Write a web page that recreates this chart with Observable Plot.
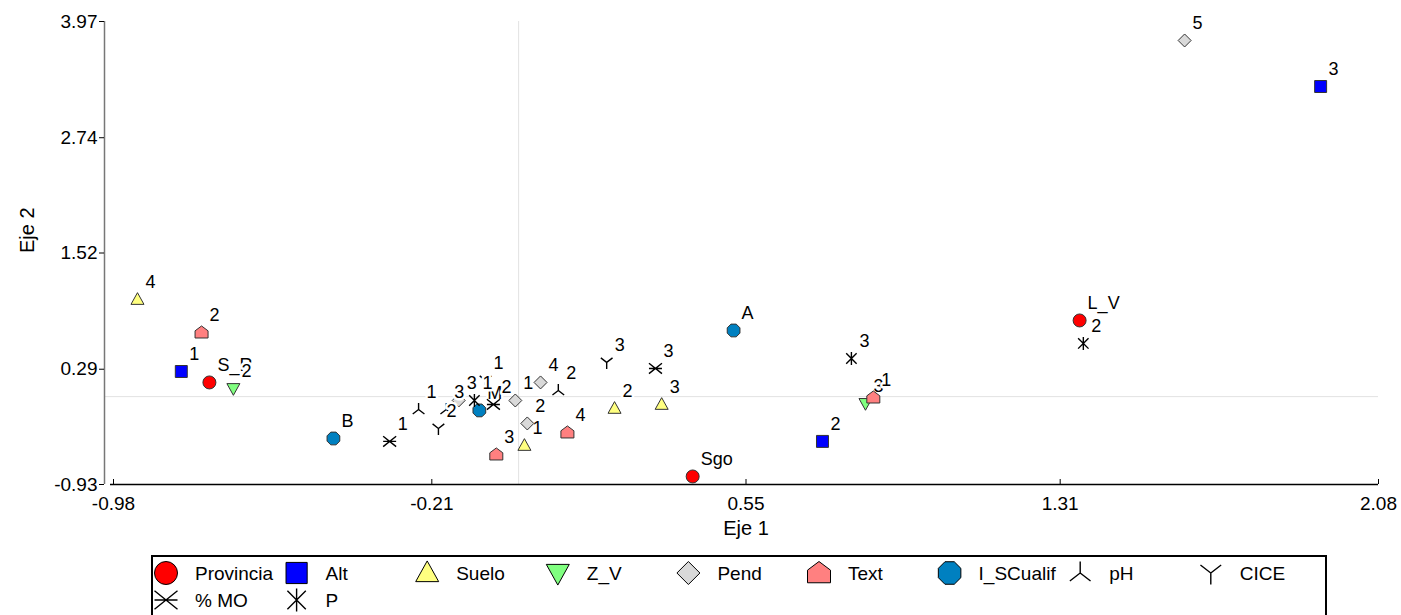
<!DOCTYPE html>
<html><head><meta charset="utf-8">
<script src="https://cdn.jsdelivr.net/npm/d3@7"></script>
<script src="https://cdn.jsdelivr.net/npm/@observablehq/plot@0.6"></script>
<style>
html,body{margin:0;padding:0;background:#fff;font-family:"Liberation Sans",Arial,sans-serif;}
#chart svg,#legend svg{display:block;}
</style></head><body>
<div id="chart"></div><div id="legend"></div>
<script>
// ---- data ----
const seriesNames = ["Provincia","Alt","Suelo","Z_V","Pend","Text","I_SCualif","pH","CICE","% MO","P"];

const provinciaLabels = ["S_R","Sgo","L_V"];
const provinciaX = [-0.748, 0.421, 1.357];
const provinciaY = [0.150, -0.845, 0.806];

const altLabels = ["1","2","3"];
const altX = [-0.816, 0.735, 1.940];
const altY = [0.266, -0.474, 3.282];

const sueloLabels = ["1","2","3","4"];
const sueloX = [0.014, 0.232, 0.346, -0.922];
const sueloY = [-0.517, -0.125, -0.083, 1.028];

const zvLabels = ["2","3"];
const zvX = [-0.690, 0.839];
const zvY = [0.086, -0.072];

const pendLabels = ["1","2","3","4","5"];
const pendX = [-0.008, 0.021, -0.145, 0.053, 1.611];
const pendY = [-0.041, -0.284, -0.041, 0.150, 3.769];

const textLabels = ["1","2","3","4"];
const textX = [0.858, -0.767, -0.054, 0.118];
const textY = [-0.009, 0.679, -0.612, -0.379];

const iscLabels = ["A","B","M"];
const iscX = [0.520, -0.448, -0.095];
const iscY = [0.700, -0.443, -0.146];

const phLabels = ["1","2","3"];
const phX = [-0.242, 0.096, -0.175];
const phY = [-0.136, 0.065, -0.136];

const ciceLabels = ["1","2","3"];
const ciceX = [-0.080, -0.194, 0.213];
const ciceY = [0.171, -0.337, 0.362];

const moLabels = ["1","2","3"];
const moX = [-0.312, -0.061, 0.331];
const moY = [-0.474, -0.083, 0.298];

const pLabels = ["1","2","3"];
const pX = [-0.107, 1.366, 0.805];
const pY = [-0.041, 0.563, 0.404];

const xTicks = [-0.98, -0.21, 0.55, 1.31, 2.08];
const yTicks = [-0.93, 0.29, 1.52, 2.74, 3.97];
const xTitle = "Eje 1";
const yTitle = "Eje 2";

// ---- styles ----
const seriesFill = ["#ff0000","#0000ff","#ffff80","#80ff80","#d9d9d9","#ff8080","#0080c0",null,null,null,null];

const sym = (fn) => ({draw(ctx, size){ const h = Math.sqrt(size/Math.PI); fn(ctx, h); }});
const circle = sym((c,h)=>{c.moveTo(h,0); c.arc(0,0,h,0,2*Math.PI); c.closePath();});
const square = sym((c,h)=>{const s=h*0.92; c.moveTo(-s,-s); c.lineTo(s,-s); c.lineTo(s,s); c.lineTo(-s,s); c.closePath();});
const triUp = sym((c,h)=>{c.moveTo(0,-h*1.05); c.lineTo(h,h*0.75); c.lineTo(-h,h*0.75); c.closePath();});
const triDown = sym((c,h)=>{c.moveTo(0,h*1.05); c.lineTo(h,-h*0.75); c.lineTo(-h,-h*0.75); c.closePath();});
const diamond = sym((c,h)=>{c.moveTo(0,-h); c.lineTo(h,0); c.lineTo(0,h); c.lineTo(-h,0); c.closePath();});
const house = sym((c,h)=>{c.moveTo(0,-h); c.lineTo(h,-h*0.25); c.lineTo(h,h*0.85); c.lineTo(-h,h*0.85); c.lineTo(-h,-h*0.25); c.closePath();});
const octagon = sym((c,h)=>{const R=h*1.06; for(let k=0;k<8;k++){const a=Math.PI/8+k*Math.PI/4; const px=R*Math.cos(a), py=R*Math.sin(a); if(k) c.lineTo(px,py); else c.moveTo(px,py);} c.closePath();});
const lambda = sym((c,h)=>{c.moveTo(0,-h); c.lineTo(0,0); c.lineTo(-h*0.9,h*0.7); c.moveTo(0,0); c.lineTo(h*0.9,h*0.7);});
const yShape = sym((c,h)=>{c.moveTo(0,h); c.lineTo(0,0); c.lineTo(-h*0.9,-h*0.7); c.moveTo(0,0); c.lineTo(h*0.9,-h*0.7);});
const xBar = sym((c,h)=>{c.moveTo(-h,-h*0.8); c.lineTo(h,h*0.8); c.moveTo(-h,h*0.8); c.lineTo(h,-h*0.8); c.moveTo(-h,0); c.lineTo(h,0);});
const star = sym((c,h)=>{c.moveTo(-h*0.8,-h*0.8); c.lineTo(h*0.8,h*0.8); c.moveTo(-h*0.8,h*0.8); c.lineTo(h*0.8,-h*0.8); c.moveTo(0,-h); c.lineTo(0,h);});
const seriesSymbol = [circle,square,triUp,triDown,diamond,house,octagon,lambda,yShape,xBar,star];

const seriesData = [
  [provinciaLabels, provinciaX, provinciaY],
  [altLabels, altX, altY],
  [sueloLabels, sueloX, sueloY],
  [zvLabels, zvX, zvY],
  [pendLabels, pendX, pendY],
  [textLabels, textX, textY],
  [iscLabels, iscX, iscY],
  [phLabels, phX, phY],
  [ciceLabels, ciceX, ciceY],
  [moLabels, moX, moY],
  [pLabels, pX, pY]
];

const FONT = "'Liberation Sans', Arial, sans-serif";
const W = 1401, H = 545;

const marks = [
  Plot.ruleX([0], {y1: yTicks[0], y2: yTicks[yTicks.length-1], stroke: "#e2e2e2", strokeWidth: 1}),
  Plot.ruleY([0], {x1: xTicks[0], x2: xTicks[xTicks.length-1], insetLeft: -9, stroke: "#e2e2e2", strokeWidth: 1}),
  Plot.ruleX([xTicks[0]], {y1: yTicks[0], y2: yTicks[yTicks.length-1], dx: -9, stroke: "#777", strokeWidth: 1.5}),
  Plot.ruleY([yTicks[0]], {x1: xTicks[0], x2: xTicks[xTicks.length-1], insetLeft: -3, stroke: "#000", strokeWidth: 1.5}),
  Plot.axisY({ticks: yTicks, tickFormat: d => d.toFixed(2), dx: -9, tickSize: 5, tickPadding: 2, label: null, fontSize: 19, stroke: "#000"}),
  Plot.axisX({ticks: xTicks, tickFormat: d => d.toFixed(2), tickSize: -5, tickPadding: 17, label: null, fontSize: 19}),
  Plot.text([xTitle], {frameAnchor: "bottom", dy: 44, lineAnchor: "middle", fontSize: 20, fill: "#000"}),
  Plot.text([yTitle], {frameAnchor: "left", dx: -86, rotate: -90, lineAnchor: "middle", fontSize: 20, fill: "#000"})
];

seriesData.forEach(([labs, xs, ys], i) => {
  const rows = labs.map((l, j) => ({label: l, x: xs[j], y: ys[j]}));
  const filled = seriesFill[i] != null;
  marks.push(Plot.dot(rows, {
    x: "x", y: "y", symbol: seriesSymbol[i], r: 6.5,
    fill: filled ? seriesFill[i] : "none",
    stroke: filled ? "#333" : "#000",
    strokeWidth: filled ? 1 : 1.4
  }));
  marks.push(Plot.text(rows, {
    x: "x", y: "y", text: "label", dx: 8, dy: -17, textAnchor: "start",
    fontSize: 18, fill: "#000", stroke: "#fff", strokeWidth: 5, paintOrder: "stroke"
  }));
});

const chart = Plot.plot({
  width: W, height: H,
  marginLeft: 113, marginRight: 23, marginTop: 21, marginBottom: 61,
  x: {domain: [xTicks[0], xTicks[xTicks.length-1]], axis: null},
  y: {domain: [yTicks[0], yTicks[yTicks.length-1]], axis: null},
  style: {fontFamily: FONT, color: "#000", background: "#fff", overflow: "visible"},
  marks
});
document.getElementById("chart").appendChild(chart);

// ---- legend ----
const LH = 70;
const lsvg = d3.select("#legend").append("svg").attr("width", W).attr("height", LH)
  .style("font-family", FONT);
lsvg.append("rect").attr("x", 152).attr("y", 11).attr("width", 1174).attr("height", 100)
  .attr("fill", "none").attr("stroke", "#000").attr("stroke-width", 2);
const colX = i => 166 + i * 130.6;
seriesNames.forEach((name, i) => {
  const row = i < 9 ? 0 : 1;
  const col = i < 9 ? i : i - 9;
  const cx = colX(col), cy = row === 0 ? 28 : 55;
  const filled = seriesFill[i] != null;
  const h = 11.5;
  lsvg.append("path")
    .attr("d", d3.symbol().type(seriesSymbol[i]).size(Math.PI * h * h)())
    .attr("transform", `translate(${cx},${cy})`)
    .attr("fill", filled ? seriesFill[i] : "none")
    .attr("stroke", "#000").attr("stroke-width", filled ? 1 : 1.4);
  lsvg.append("text").attr("x", cx + 29).attr("y", cy).attr("dy", "0.35em")
    .attr("font-size", 19).attr("fill", "#000").text(name);
});
</script>
</body></html>
